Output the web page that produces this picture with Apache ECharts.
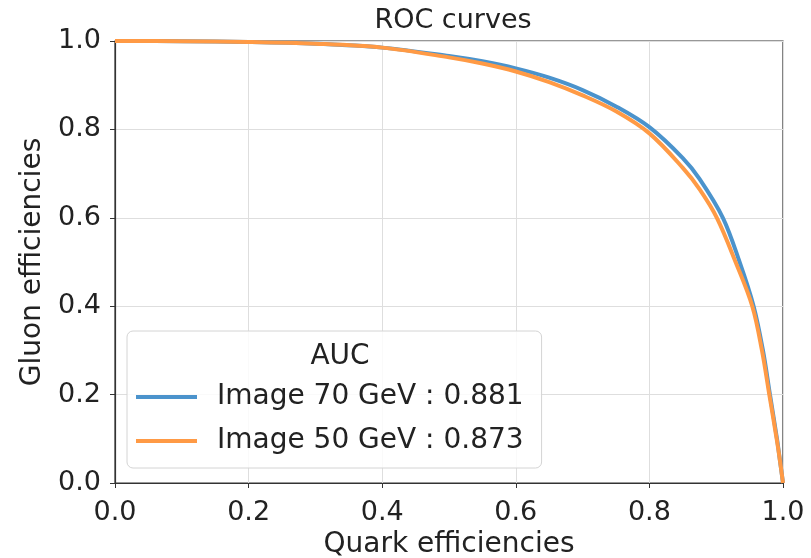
<!DOCTYPE html>
<html>
<head>
<meta charset="utf-8">
<script src="https://cdn.jsdelivr.net/npm/echarts@6/dist/echarts.min.js"></script>
<style>
  html, body { margin: 0; padding: 0; background: #fff; }
  #chart { width: 811px; height: 558px; }
</style>
</head>
<body>
<div id="chart"></div>
<script>
// ROC curve points
const quarkEff70 = [0, 0.1, 0.2, 0.3, 0.4, 0.5, 0.55, 0.6, 0.65, 0.7, 0.75, 0.8, 0.85, 0.875, 0.91, 0.935, 0.956, 0.97, 0.9805, 0.991, 0.9955, 1.0];
const gluonEff70 = [1.0, 0.9995, 0.998, 0.994, 0.985, 0.966, 0.954, 0.938, 0.917, 0.889, 0.852, 0.805, 0.735, 0.688, 0.6, 0.5, 0.4, 0.3, 0.2, 0.1, 0.05, 0.0];
const quarkEff50 = [0, 0.1, 0.2, 0.3, 0.4, 0.5, 0.55, 0.6, 0.65, 0.7, 0.75, 0.8, 0.85, 0.875, 0.901, 0.929, 0.954, 0.9685, 0.9795, 0.9905, 0.9955, 1.0];
const gluonEff50 = [1.0, 0.9995, 0.998, 0.994, 0.985, 0.963, 0.949, 0.931, 0.907, 0.877, 0.841, 0.791, 0.713, 0.665, 0.6, 0.5, 0.4, 0.3, 0.2, 0.1, 0.05, 0.0];
const seriesNames = ['Image 70 GeV : 0.881', 'Image 50 GeV : 0.873'];

const zip = (xs, ys) => xs.map((x, i) => [x, ys[i]]);

const font = 'DejaVu Sans';
const chart = echarts.init(document.getElementById('chart'), null, { renderer: 'canvas' });

const axisCommon = {
  type: 'value',
  min: 0,
  max: 1,
  interval: 0.2,
  axisLine: { show: true, lineStyle: { color: '#333', width: 1.2 } },
  axisTick: { show: true, length: 5, lineStyle: { color: '#333' } },
  splitLine: { show: true, lineStyle: { color: '#dedede', width: 1 } },
  nameLocation: 'middle',
  nameTextStyle: { fontFamily: font, fontSize: 28, color: '#222' }
};

const option = {
  animation: false,
  backgroundColor: '#fff',
  title: [
    {
      text: 'ROC curves',
      left: 448,
      top: 2,
      textAlign: 'center',
      textStyle: { fontFamily: font, fontSize: 27, fontWeight: 'normal', color: '#222' }
    },
    {
      text: 'AUC',
      left: 335,
      top: 338,
      textAlign: 'center',
      z: 10,
      textStyle: { fontFamily: font, fontSize: 28, fontWeight: 'normal', color: '#222' }
    }
  ],
  grid: {
    left: 115, right: 28, top: 41, bottom: 75,
    outerBoundsMode: 'none',
    show: true, borderColor: '#333', borderWidth: 1.2
  },
  xAxis: Object.assign({}, axisCommon, {
    name: 'Quark efficiencies',
    nameGap: 47,
    axisLabel: {
      margin: 16, fontFamily: font, fontSize: 27, color: '#222',
      formatter: v => v.toFixed(1)
    }
  }),
  yAxis: Object.assign({}, axisCommon, {
    name: 'Gluon efficiencies',
    nameGap: 68,
    axisLabel: {
      margin: 14, fontFamily: font, fontSize: 27, color: '#222',
      formatter: v => v.toFixed(1)
    }
  }),
  legend: {
    left: 127,
    top: 331,
    orient: 'vertical',
    icon: 'rect',
    itemWidth: 61,
    itemHeight: 4,
    itemGap: 14,
    padding: [51, 18, 12, 9],
    backgroundColor: 'rgba(255,255,255,0.85)',
    borderColor: '#d4d4d4',
    borderWidth: 1,
    borderRadius: 6,
    textStyle: { fontFamily: font, fontSize: 28, color: '#222', lineHeight: 30, padding: [0, 0, 0, 15] },
    data: seriesNames
  },
  series: [
    {
      name: seriesNames[0],
      type: 'line',
      data: zip(quarkEff70, gluonEff70),
      showSymbol: false,
      smooth: 0.35,
      lineStyle: { width: 4, color: '#4b93cc' },
      itemStyle: { color: '#4b93cc' }
    },
    {
      name: seriesNames[1],
      type: 'line',
      data: zip(quarkEff50, gluonEff50),
      showSymbol: false,
      smooth: 0.35,
      lineStyle: { width: 4, color: '#ff9a45' },
      itemStyle: { color: '#ff9a45' }
    }
  ]
};

chart.setOption(option);
window.addEventListener('resize', () => chart.resize());
</script>
</body>
</html>
